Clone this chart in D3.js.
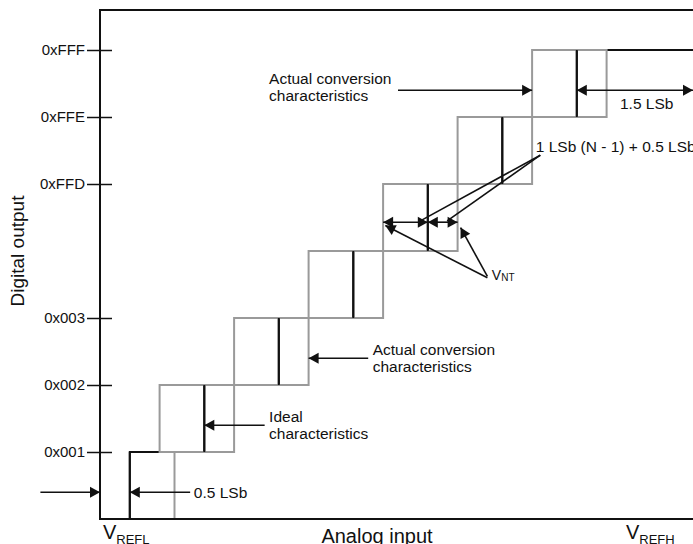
<!DOCTYPE html>
<html>
<head>
<meta charset="utf-8">
<script src="https://cdn.jsdelivr.net/npm/d3@7"></script>
<style>
  body { margin: 0; background: #fff; }
  svg { display: block; font-family: "Liberation Sans", Arial, sans-serif; }
</style>
</head>
<body>
<svg id="chart" width="693" height="544"></svg>
<script>
// codes shown on the digital output axis (level index -> label)
const tickLevels = [1, 2, 3, 5, 6, 7];
const tickLabels = ["0x001", "0x002", "0x003", "0xFFD", "0xFFE", "0xFFF"];

// analog input in LSb units where the ideal code changes k -> k+1
const idealSteps = [0.4, 1.4, 2.4, 3.4, 4.4, 5.4, 6.4];
// actual conversion: earliest and latest transition of each code
const actualEarly = [0.4, 0.8, 1.8, 2.8, 3.8, 4.8, 5.8];
const actualLate = [1.0, 1.8, 2.8, 3.8, 4.8, 5.8, 6.8];

// annotation arrows: [x1, y1, x2, y2, heads] in LSb / level units
const arrows = [
  [-0.8, 0.4, 0, 0.4, "end"],
  [1.21, 0.4, 0.4, 0.4, "end"],
  [2.21, 1.4, 1.4, 1.4, "end"],
  [3.6, 2.4, 2.8, 2.4, "end"],
  [4.0, 6.4, 5.8, 6.4, "end"],
  [6.4, 6.4, 7.96, 6.4, "both"],
  [3.8, 4.43, 4.4, 4.43, "both"],
  [4.4, 4.43, 4.8, 4.43, "both"],
  [5.91, 5.43, 4.3, 4.45, "none"],
  [5.91, 5.43, 4.66, 4.45, "none"],
  [5.2, 3.6, 3.83, 4.38, "end"],
  [5.2, 3.62, 4.84, 4.35, "end"]
];

// text labels: [x, y, lines]
const notes = [
  [2.27, 6.49, ["Actual conversion", "characteristics"]]
  , [3.66, 2.45, ["Actual conversion", "characteristics"]]
  , [2.27, 1.45, ["Ideal", "characteristics"]]
  , [1.26, 0.31, ["0.5 LSb"]]
  , [6.98, 6.12, ["1.5 LSb"]]
  , [5.85, 5.48, ["1 LSb (N - 1) + 0.5 LSb"]]
];

const svg = d3.select("#chart");
const x = d3.scaleLinear().domain([0, 8]).range([100, 696]);
const y = d3.scaleLinear().domain([0, 7]).range([519, 50]);
const ink = "#111";
const gray = "#9a9a9a";

// arrow heads
const defs = svg.append("defs");
["end", "start"].forEach((k) => {
  defs.append("marker")
    .attr("id", "head-" + k)
    .attr("markerUnits", "userSpaceOnUse")
    .attr("viewBox", "-11 -6 12 12")
    .attr("refX", 0).attr("refY", 0)
    .attr("markerWidth", 12).attr("markerHeight", 12)
    .attr("orient", k == "end" ? "auto" : "auto-start-reverse")
    .append("path")
    .attr("d", "M-10,-5.5L0,0L-10,5.5Z")
    .attr("fill", ink);
});

// ideal characteristic (black staircase)
let d = "M" + x(idealSteps[0]) + "," + y(0);
idealSteps.forEach((s, i) => {
  d += "H" + x(s) + "V" + y(i + 1);
});
d += "H" + 720;
svg.append("path").attr("d", d).attr("fill", "none").attr("stroke", ink).attr("stroke-width", 2);

// actual conversion boxes (gray)
svg.append("line")
  .attr("x1", x(actualLate[0])).attr("x2", x(actualLate[0]))
  .attr("y1", y(0)).attr("y2", y(1))
  .attr("stroke", gray).attr("stroke-width", 2);
svg.selectAll(".box")
  .data(actualEarly.slice(1))
  .enter()
  .append("rect")
  .attr("class", "box")
  .attr("x", (e) => x(e))
  .attr("y", (e, i) => y(i + 2))
  .attr("width", (e, i) => x(actualLate[i + 1]) - x(e))
  .attr("height", (e, i) => y(i + 1) - y(i + 2))
  .attr("fill", "none").attr("stroke", gray).attr("stroke-width", 2);

// ideal risers on top
svg.selectAll(".riser")
  .data(idealSteps)
  .enter()
  .append("line")
  .attr("x1", (s) => x(s)).attr("x2", (s) => x(s))
  .attr("y1", (s, i) => y(i)).attr("y2", (s, i) => y(i + 1))
  .attr("stroke", ink).attr("stroke-width", 2);

// frame
svg.append("path")
  .attr("d", "M720,10H100V519H720")
  .attr("fill", "none").attr("stroke", ink).attr("stroke-width", 2);

// Y axis
const yAxis = d3.axisLeft(y)
  .tickValues(tickLevels)
  .tickFormat((v, i) => tickLabels[i])
  .tickSize(13)
  .tickPadding(2);
const ga = svg.append("g").attr("transform", "translate(100,0)").call(yAxis);
ga.select(".domain").remove();
ga.selectAll(".tick line").attr("x1", 12).attr("stroke", ink).attr("stroke-width", 1.5);
ga.selectAll(".tick text")
  .attr("font-size", 15)
  .attr("font-family", "Liberation Sans, Arial, sans-serif")
  .attr("fill", ink);

// arrows
svg.selectAll(".arrow")
  .data(arrows)
  .enter()
  .append("line")
  .attr("class", "arrow")
  .attr("x1", (a) => x(a[0])).attr("y1", (a) => y(a[1]))
  .attr("x2", (a) => x(a[2])).attr("y2", (a) => y(a[3]))
  .attr("stroke", ink).attr("stroke-width", 1.6)
  .attr("marker-end", (a) => (a[4] != "none" ? "url(#head-end)" : null))
  .attr("marker-start", (a) => (a[4] == "both" ? "url(#head-start)" : null));

// notes
notes.forEach((n) => {
  const t = svg.append("text")
    .attr("x", x(n[0])).attr("y", y(n[1]))
    .attr("font-size", 15.5).attr("fill", ink);
  n[2].forEach((line, i) => {
    t.append("tspan").attr("x", x(n[0])).attr("dy", i ? 17 : 0).text(line);
  });
});

// V_NT label
const vnt = svg.append("text").attr("x", x(5.26)).attr("y", 280).attr("font-size", 14).attr("fill", ink);
vnt.append("tspan").text("V");
vnt.append("tspan").attr("font-size", 10).attr("dy", 1).text("NT");

// reference voltages
[[0.04, "REFL"], [7.06, "REFH"]].forEach((r) => {
  const t = svg.append("text").attr("x", x(r[0])).attr("y", 539).attr("font-size", 20).attr("fill", ink);
  t.append("tspan").text("V");
  t.append("tspan").attr("font-size", 13).attr("dy", 5).text(r[1]);
});

// axis titles
svg.append("text")
  .attr("x", 377).attr("y", 543)
  .attr("text-anchor", "middle")
  .attr("font-size", 20).attr("fill", ink)
  .text("Analog input");

svg.append("text")
  .attr("transform", "translate(24,251) rotate(-90)")
  .attr("text-anchor", "middle")
  .attr("font-size", 19).attr("fill", ink)
  .text("Digital output");
</script>
</body>
</html>
